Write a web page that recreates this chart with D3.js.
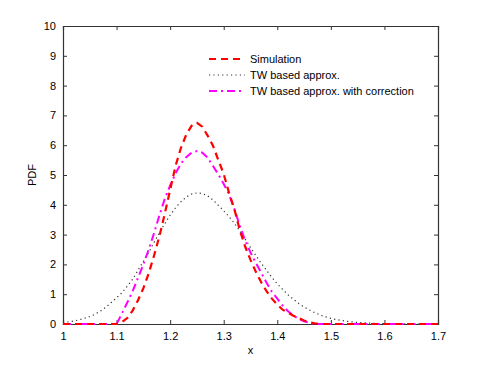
<!DOCTYPE html>
<html>
<head>
<meta charset="utf-8">
<script src="https://cdn.jsdelivr.net/npm/d3@7"></script>
<style>
  body { margin: 0; background: #fff; }
  text { font-family: "Liberation Sans", Arial, sans-serif; }
</style>
</head>
<body>
<div class="chart"></div>
<script>
// x grid for the curves, 1.00 .. 1.70 step 0.01
let xs = d3.range(71).map(i => +(1 + i * 0.01).toFixed(2));

// Simulation (red dashed)
let simValues = [
  0, 0, 0, 0, 0, 0, 0, 0, 0, 0,              // 1.00-1.09
  0, 0.06, 0.2, 0.45, 0.8, 1.2, 1.7, 2.3, 2.95, 3.7,   // 1.10-1.19
  4.5, 5.3, 5.9, 6.35, 6.65, 6.75, 6.62, 6.32, 5.98, 5.5, // 1.20-1.29
  5.03, 4.4, 3.85, 3.15, 2.6, 2.15, 1.75, 1.4, 1.1, 0.85, // 1.30-1.39
  0.65, 0.48, 0.38, 0.28, 0.2, 0.12, 0.06, 0.02, 0, 0,   // 1.40-1.49
  0, 0, 0, 0, 0, 0, 0, 0, 0, 0,
  0, 0, 0, 0, 0, 0, 0, 0, 0, 0,
  0
];

// TW based approx. (black dotted)
let twValues = [
  0.05, 0.07, 0.1, 0.14, 0.19, 0.25, 0.33, 0.44, 0.56, 0.72,
  0.88, 1.05, 1.27, 1.5, 1.8, 2.1, 2.4, 2.74, 3.06, 3.37,
  3.65, 3.9, 4.1, 4.26, 4.36, 4.4, 4.38, 4.3, 4.16, 3.98,
  3.8, 3.6, 3.38, 3.12, 2.85, 2.57, 2.3, 2.04, 1.8, 1.56,
  1.35, 1.16, 0.98, 0.83, 0.69, 0.57, 0.47, 0.38, 0.3, 0.24,
  0.19, 0.15, 0.12, 0.09, 0.07, 0.05, 0.04, 0.03, 0.02, 0.015,
  0.01, 0.007, 0.005, 0.003, 0.002, 0.001, 0, 0, 0, 0,
  0
];

// TW based approx. with correction (magenta dash-dot)
let twCorrValues = [
  0, 0, 0, 0, 0, 0, 0, 0, 0, 0,
  0, 0.35, 0.72, 1.1, 1.55, 2.0, 2.5, 3.05, 3.65, 4.2,
  4.65, 5.05, 5.38, 5.6, 5.75, 5.8, 5.75, 5.58, 5.3, 5.02,
  4.7, 4.35, 3.85, 3.3, 2.8, 2.4, 2.05, 1.72, 1.38, 1.08,
  0.85, 0.62, 0.43, 0.28, 0.17, 0.09, 0.04, 0, 0, 0,
  0, 0, 0, 0, 0, 0, 0, 0, 0, 0,
  0, 0, 0, 0, 0, 0, 0, 0, 0, 0,
  0
];

let xTicks = [1, 1.1, 1.2, 1.3, 1.4, 1.5, 1.6, 1.7];
let yTicks = [0, 1, 2, 3, 4, 5, 6, 7, 8, 9, 10];
let legendNames = ["Simulation", "TW based approx.", "TW based approx. with correction"];

let svgW = 485;
let svgH = 365;
let margin = { top: 26, right: 47, bottom: 41, left: 63 };
let width = svgW - margin.left - margin.right;
let height = svgH - margin.top - margin.bottom;

let svg = d3.select(".chart")
  .append("svg")
  .attr("width", svgW)
  .attr("height", svgH);

let chartGroup = svg.append("g")
  .attr("transform", `translate(${margin.left}, ${margin.top})`);

let xScale = d3.scaleLinear().domain([1, 1.7]).range([0, width]);
let yScale = d3.scaleLinear().domain([0, 10]).range([height, 0]);

// series setup
let series = [
  { name: legendNames[0], values: simValues, color: "#ff0000", width: 2.2, dash: "7,5" },
  { name: legendNames[1], values: twValues, color: "#333", width: 1.2, dash: "1.2,3.2" },
  { name: legendNames[2], values: twCorrValues, color: "#ff00ff", width: 2, dash: "8,4,2,4" }
];

let line = d3.line()
  .x((d, i) => xScale(xs[i]))
  .y(d => yScale(d));

// axes, MATLAB style (ticks inside, on all four sides)
let axisColor = "#333";
let bottomAxis = d3.axisBottom(xScale).tickValues(xTicks).tickSize(-4).tickPadding(8).tickFormat(d3.format("~g"));
let topAxis = d3.axisTop(xScale).tickValues(xTicks).tickSize(-4).tickFormat("");
let leftAxis = d3.axisLeft(yScale).tickValues(yTicks).tickSize(-4).tickPadding(7).tickFormat(d3.format("d"));
let rightAxis = d3.axisRight(yScale).tickValues(yTicks).tickSize(-4).tickFormat("");

let gx = chartGroup.append("g").attr("transform", `translate(0, ${height})`).call(bottomAxis);
let gt = chartGroup.append("g").call(topAxis);
let gy = chartGroup.append("g").call(leftAxis);
let gr = chartGroup.append("g").attr("transform", `translate(${width}, 0)`).call(rightAxis);

[gx, gt, gy, gr].forEach(g => {
  g.selectAll("path").attr("stroke", axisColor).attr("stroke-width", 1.2);
  g.selectAll("line").attr("stroke", axisColor);
  g.selectAll("text").attr("fill", "#000").style("font-size", "11px")
    .style("font-family", "'Liberation Sans', Arial, sans-serif");
});

// curves drawn on top of the frame; black first so coloured curves sit above it
let plot = chartGroup.append("g");
[series[1], series[2], series[0]].forEach(s => {
  plot.append("path")
    .datum(s.values)
    .attr("d", line)
    .attr("fill", "none")
    .attr("stroke", s.color)
    .attr("stroke-width", s.width)
    .attr("stroke-dasharray", s.dash);
});

// axis labels
chartGroup.append("text")
  .attr("x", width / 2)
  .attr("y", height + 30)
  .attr("text-anchor", "middle")
  .style("font-size", "11px")
  .text("x");

chartGroup.append("text")
  .attr("transform", "rotate(-90)")
  .attr("x", -height / 2)
  .attr("y", -27)
  .attr("text-anchor", "middle")
  .style("font-size", "11px")
  .text("PDF");

// legend
let legend = svg.append("g").attr("transform", "translate(209, 59)");
series.forEach((s, i) => {
  let row = legend.append("g").attr("transform", `translate(0, ${i * 16})`);
  row.append("line")
    .attr("x1", 0).attr("x2", 36)
    .attr("y1", 0).attr("y2", 0)
    .attr("stroke", s.color)
    .attr("stroke-width", s.width)
    .attr("stroke-dasharray", s.dash);
  row.append("text")
    .attr("x", 41)
    .attr("y", 4)
    .style("font-size", "11px")
    .text(s.name);
});
</script>
</body>
</html>
